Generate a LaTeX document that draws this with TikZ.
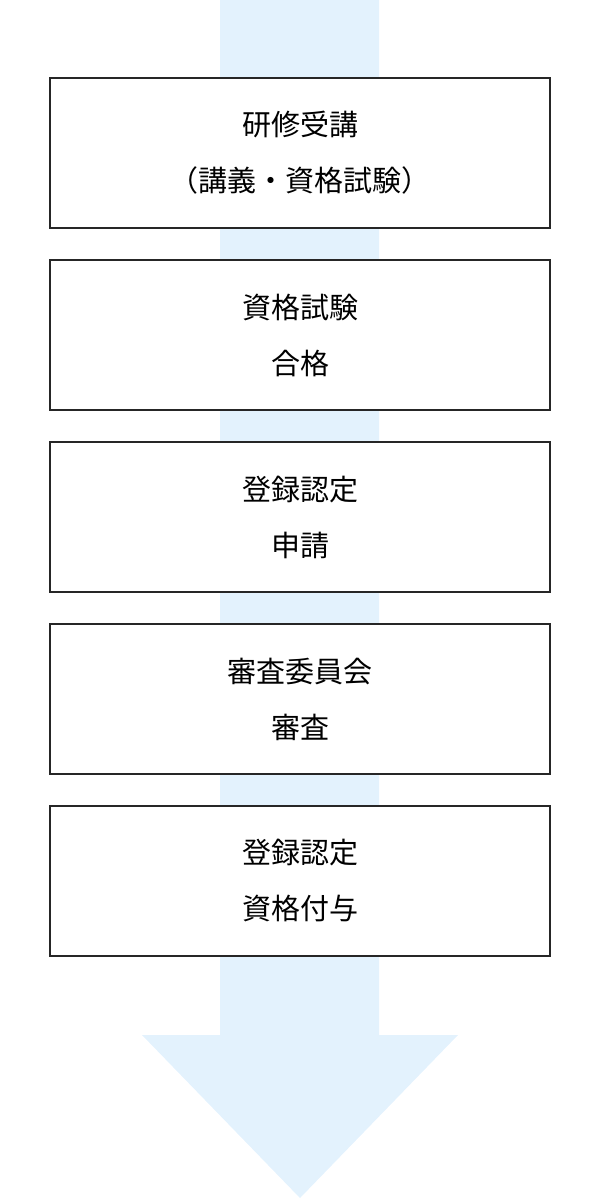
\documentclass[tikz,border=0pt]{standalone}
\usepackage{fontspec}
\setmainfont{Noto Sans CJK JP}
\definecolor{arrowblue}{HTML}{E3F2FD}
\begin{document}
\begin{tikzpicture}[x=0.5pt,y=-0.5pt,
  stepbox/.style={draw=black!85,line width=0.6pt,fill=white,minimum width=250pt,minimum height=75pt,inner sep=0pt,align=center,font=\fontsize{14.5pt}{28pt}\selectfont}]
\useasboundingbox (0,0) rectangle (600,1200);
\fill[arrowblue] (220,0) -- (379,0) -- (379,1035) -- (458,1035) -- (300,1198) -- (142,1035) -- (220,1035) -- cycle;
\node[stepbox] (s1) at (300,153) {研修受講\\（講義・資格試験）};
\node[stepbox] (s2) at (300,335) {資格試験\\合格};
\node[stepbox] (s3) at (300,517) {登録認定\\申請};
\node[stepbox] (s4) at (300,699) {審査委員会\\審査};
\node[stepbox] (s5) at (300,881) {登録認定\\資格付与};
\end{tikzpicture}
\end{document}
